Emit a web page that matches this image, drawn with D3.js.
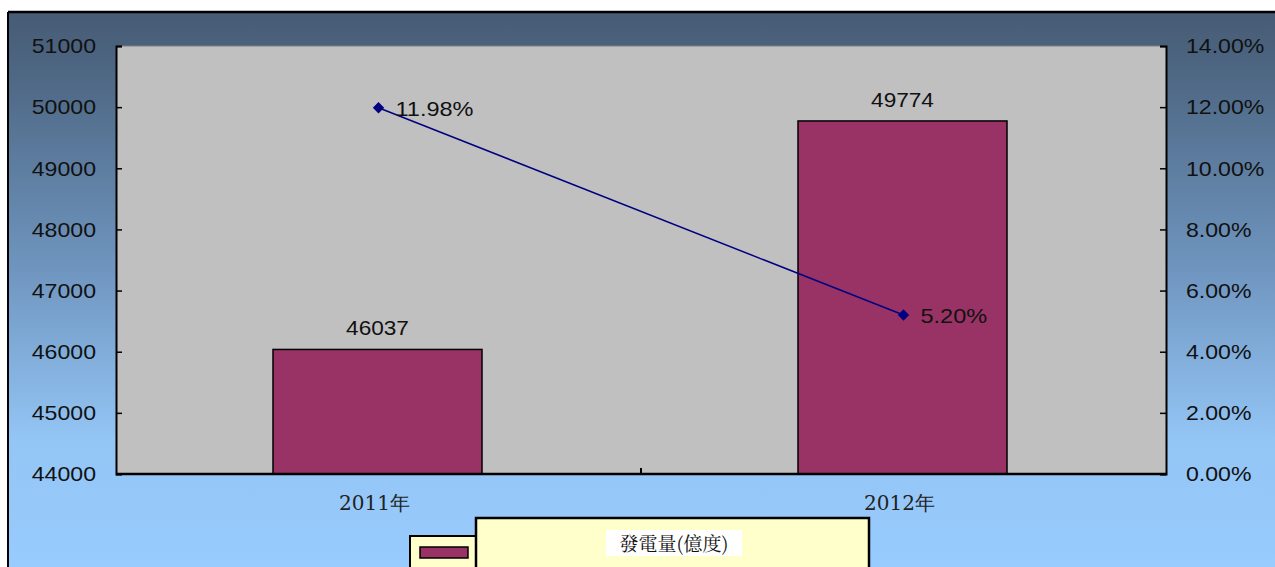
<!DOCTYPE html>
<html><head><meta charset="utf-8">
<script src="https://cdn.jsdelivr.net/npm/d3@7/dist/d3.min.js"></script>
<style>body{margin:0;background:#fff;}svg{display:block;}</style>
</head><body>
<svg id="c" width="1275" height="567"></svg>
<script>
const categories = ["2011年", "2012年"];
const generation = [46037, 49774];
const growth = [11.98, 5.20];
const leftTicks = [44000, 45000, 46000, 47000, 48000, 49000, 50000, 51000];
const rightTicks = [0, 2, 4, 6, 8, 10, 12, 14];
const seriesName = "發電量(億度)";

const svg = d3.select("#c");
const defs = svg.append("defs");
const g = defs.append("linearGradient").attr("id","bg").attr("x1",0).attr("y1",0).attr("x2",0).attr("y2",1);
g.append("stop").attr("offset","0%").attr("stop-color","#475b75");
g.append("stop").attr("offset","10%").attr("stop-color","#4d6682");
g.append("stop").attr("offset","45%").attr("stop-color","#6f95bf");
g.append("stop").attr("offset","75%").attr("stop-color","#93c5f5");
g.append("stop").attr("offset","100%").attr("stop-color","#99ccff");

svg.append("rect").attr("x",8).attr("y",12).attr("width",1280).attr("height",570).attr("fill","url(#bg)");
svg.append("line").attr("x1",8).attr("x2",1275).attr("y1",12).attr("y2",12).attr("stroke","#000").attr("stroke-width",2.5);
svg.append("line").attr("x1",8).attr("x2",8).attr("y1",12).attr("y2",567).attr("stroke","#000").attr("stroke-width",2);

const L = 116, R = 1166, T = 46, B = 474;
const xc = d3.scalePoint().domain(categories).range([L, R]).padding(0.5);
const yL = d3.scaleLinear().domain([44000, 51000]).range([B, T]);
const yR = d3.scaleLinear().domain([0, 14]).range([B, T]);

svg.append("rect").attr("x",L).attr("y",T).attr("width",R-L).attr("height",B-T).attr("fill","#c0c0c0");
svg.append("line").attr("x1",L).attr("x2",R).attr("y1",T).attr("y2",T).attr("stroke","#808080").attr("stroke-width",1);

const font = "'Liberation Sans', Arial, sans-serif";
function widen(sel, k) {
  sel.each(function() {
    const w = this.getComputedTextLength();
    d3.select(this).attr("textLength", w * k).attr("lengthAdjust", "spacingAndGlyphs");
  });
}

// bars
const bw = 209;
svg.selectAll("rect.bar").data(categories).enter().append("rect")
  .attr("x", d => xc(d) - bw/2 - 1)
  .attr("width", bw)
  .attr("y", (d,i) => yL(generation[i]))
  .attr("height", (d,i) => B - yL(generation[i]))
  .attr("fill","#993366").attr("stroke","#000").attr("stroke-width",1.5);

const bl = svg.selectAll("text.bl").data(categories).enter().append("text")
  .attr("x", d => xc(d) - 1).attr("y", (d,i) => yL(generation[i]) - 14)
  .attr("text-anchor","middle").attr("font-family",font).attr("font-size",20).attr("fill","#111")
  .text((d,i) => generation[i]);
widen(bl, 1.13);

// axes
const axL = d3.axisLeft(yL).tickValues(leftTicks).tickSize(-6).tickPadding(20).tickFormat(d3.format("d"));
const gL = svg.append("g").attr("transform",`translate(${L},0)`).call(axL);
const axR = d3.axisRight(yR).tickValues(rightTicks).tickSize(-6).tickPadding(20).tickFormat(d => d.toFixed(2) + "%");
const gR = svg.append("g").attr("transform",`translate(${R},0)`).call(axR);
[gL, gR].forEach(a => {
  a.select(".domain").attr("stroke","#000").attr("stroke-width",2);
  a.selectAll(".tick line").attr("stroke","#000").attr("stroke-width",1.5);
  a.selectAll(".tick text").attr("font-family",font).attr("font-size",21).attr("fill","#111");
  widen(a.selectAll(".tick text"), 1.1);
});
svg.append("line").attr("x1",L).attr("x2",R).attr("y1",B).attr("y2",B).attr("stroke","#000").attr("stroke-width",2.5);
svg.append("line").attr("x1",(L+R)/2).attr("x2",(L+R)/2).attr("y1",B).attr("y2",B-6).attr("stroke","#000").attr("stroke-width",2);

// category labels
svg.selectAll("text.cat").data(categories).enter().append("text")
  .attr("x", d => xc(d) - 4).attr("y", 510)
  .attr("text-anchor","middle").attr("font-family","'DejaVu Serif', 'Liberation Serif', serif").attr("font-size",20).attr("fill","#222")
  .text(d => d);

// line series
const line = d3.line().x((d,i) => xc(categories[i])).y(d => yR(d));
svg.append("path").datum(growth).attr("d", line).attr("fill","none").attr("stroke","#000080").attr("stroke-width",1.5);
svg.selectAll("path.pt").data(growth).enter().append("path")
  .attr("d", d3.symbol(d3.symbolSquare, 64))
  .attr("transform", (d,i) => `translate(${xc(categories[i])},${yR(d)}) rotate(45)`)
  .attr("fill","#000080");
const pl = svg.selectAll("text.pl").data(growth).enter().append("text")
  .attr("x", (d,i) => xc(categories[i]) + 17).attr("y", d => yR(d) + 8)
  .attr("font-family",font).attr("font-size",21).attr("fill","#111")
  .text(d => d.toFixed(2) + "%");
widen(pl, 1.12);

// legend
svg.append("rect").attr("x",410).attr("y",536).attr("width",66).attr("height",40).attr("fill","#ffffcc").attr("stroke","#000").attr("stroke-width",2);
svg.append("rect").attr("x",420).attr("y",547).attr("width",48).attr("height",11).attr("fill","#993366").attr("stroke","#000").attr("stroke-width",1.5);
svg.append("rect").attr("x",476).attr("y",518).attr("width",393).attr("height",60).attr("fill","#ffffcc").attr("stroke","#000").attr("stroke-width",2.5);
svg.append("rect").attr("x",606).attr("y",530).attr("width",136).attr("height",26).attr("fill","#fff");
svg.append("text").attr("x",674).attr("y",551).attr("text-anchor","middle")
  .attr("font-family","'Noto Serif CJK TC', 'Noto Sans CJK TC', serif").attr("font-size",19).attr("fill","#111")
  .text(seriesName);
</script>
</body></html>
